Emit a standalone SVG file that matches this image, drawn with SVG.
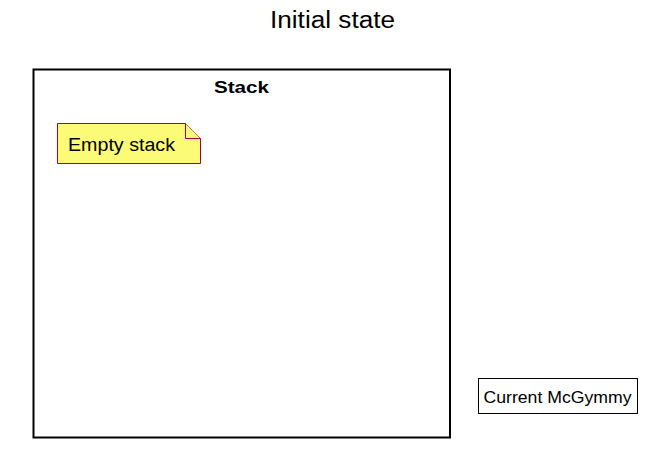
<svg xmlns="http://www.w3.org/2000/svg" width="652" height="453" viewBox="0 0 652 453">
<style>
text{font-family:"Liberation Sans",Arial,sans-serif;fill:#000}
.title{font-size:23px}
.pkg{fill:#fff;stroke:#000;stroke-width:2}
.note{fill:#FBFB77;stroke:#A80036;stroke-width:1}
.box{fill:#fff;stroke:#000;stroke-width:1}
</style>
<rect width="652" height="453" fill="#fff"/>
<text class="title" x="270" y="27.5" textLength="125" lengthAdjust="spacingAndGlyphs">Initial state</text>
<g id="stack">
<rect class="pkg" x="33.5" y="69.5" width="416.5" height="368"/>
<text x="214" y="93" font-weight="bold" font-size="17" textLength="55" lengthAdjust="spacingAndGlyphs">Stack</text>
</g>
<g id="note">
<path class="note" d="M57.5,123.5 H185.5 L200.5,138.5 V163.5 H57.5 Z"/>
<path class="note" d="M185.5,123.5 V138.5 H200.5" fill="none"/>
<text x="68" y="151" font-size="18" textLength="107" lengthAdjust="spacingAndGlyphs">Empty stack</text>
</g>
<g id="current">
<rect class="box" x="478.5" y="378.5" width="159" height="35"/>
<text x="483.5" y="403" font-size="17" textLength="148" lengthAdjust="spacingAndGlyphs">Current McGymmy</text>
</g>
<g id="connectors"></g>
</svg>
